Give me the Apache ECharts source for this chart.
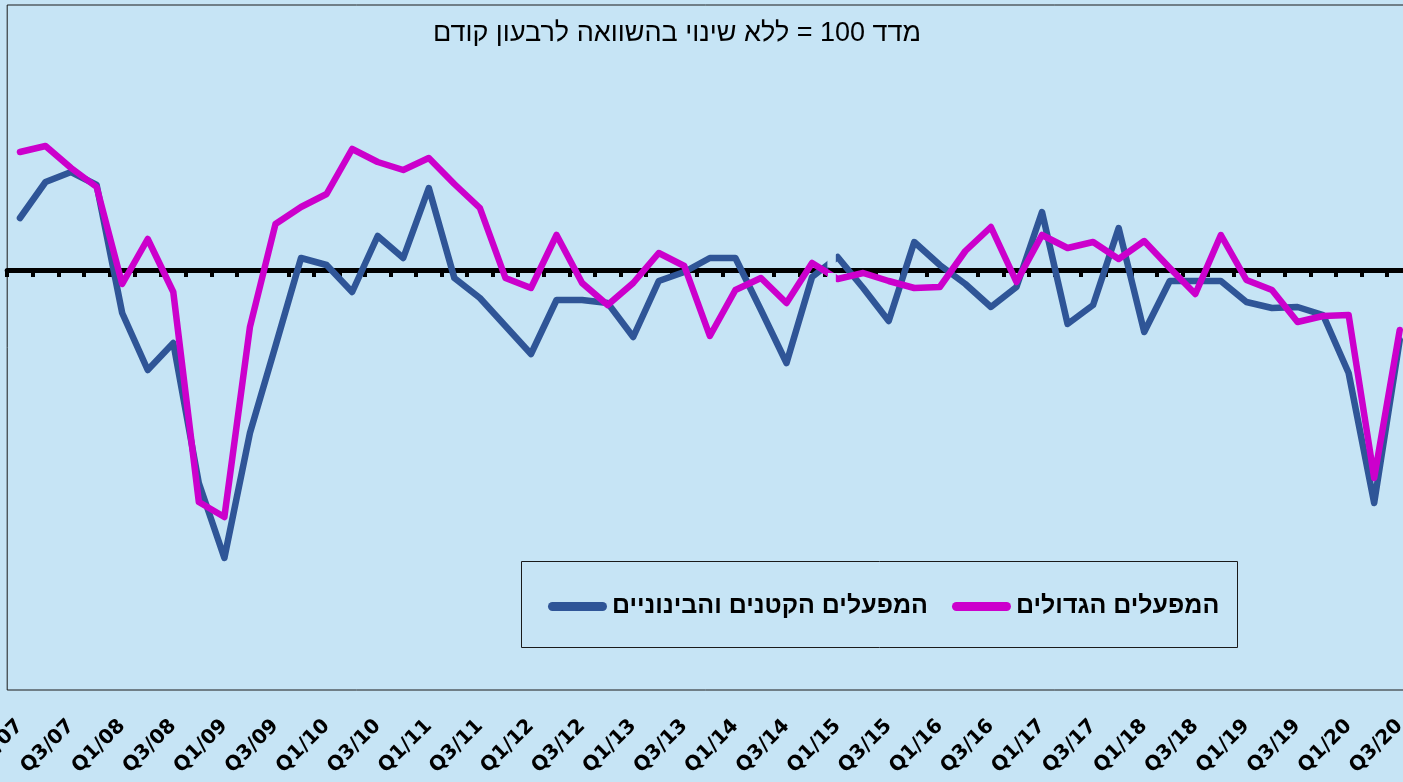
<!DOCTYPE html>
<html>
<head>
<meta charset="utf-8">
<script src="https://cdn.jsdelivr.net/npm/echarts@6.0.0/dist/echarts.min.js"></script>
<style>
  html, body { margin: 0; padding: 0; background: #C6E4F5; }
  #chart { width: 1403px; height: 782px; }
</style>
</head>
<body>
<div id="chart"></div>
<script>
// quarters, Q1/07 .. Q3/20
const quarters = [
    'Q1/07', 'Q2/07', 'Q3/07', 'Q4/07', 'Q1/08', 'Q2/08', 'Q3/08', 'Q4/08',
    'Q1/09', 'Q2/09', 'Q3/09', 'Q4/09', 'Q1/10', 'Q2/10', 'Q3/10', 'Q4/10',
    'Q1/11', 'Q2/11', 'Q3/11', 'Q4/11', 'Q1/12', 'Q2/12', 'Q3/12', 'Q4/12',
    'Q1/13', 'Q2/13', 'Q3/13', 'Q4/13', 'Q1/14', 'Q2/14', 'Q3/14', 'Q4/14',
    'Q1/15', 'Q2/15', 'Q3/15', 'Q4/15', 'Q1/16', 'Q2/16', 'Q3/16', 'Q4/16',
    'Q1/17', 'Q2/17', 'Q3/17', 'Q4/17', 'Q1/18', 'Q2/18', 'Q3/18', 'Q4/18',
    'Q1/19', 'Q2/19', 'Q3/19', 'Q4/19', 'Q1/20', 'Q2/20', 'Q3/20'
];

// המפעלים הקטנים והבינוניים
const smallMedium = [
    105.2, 108.8, 109.8, 108.5, 95.7, 90.0, 92.7, 78.7,
    71.2, 83.7, 92.4, 101.2, 100.5, 97.8, 103.4, 101.2,
    108.2, 99.2, 97.2, 94.4, 91.6, 97.0, 97.0, 96.7,
    93.3, 98.9, 99.8, 101.2, 101.2, 96.0, 90.7, 99.3,
    101.3, 98.2, 94.9, 102.8, 100.5, 98.6, 96.3, 98.3,
    105.8, 94.6, 96.5, 104.2, 93.8, 98.9, 98.9, 98.9,
    96.8, 96.2, 96.3, 95.5, 89.7, 76.7, 93.0
];

// המפעלים הגדולים
const large = [
    111.8, 112.4, 110.2, 108.3, 98.6, 103.1, 97.8, 76.8,
    75.3, 94.3, 104.6, 106.3, 107.6, 112.1, 110.8, 110.0,
    111.2, 108.6, 106.2, 99.2, 98.2, 103.5, 98.7, 96.5,
    98.7, 101.7, 100.4, 93.4, 98.0, 99.2, 96.7, 100.7,
    99.1, 99.7, 98.9, 98.2, 98.3, 101.9, 104.3, 98.8,
    103.5, 102.2, 102.8, 101.1, 102.9, 100.2, 97.6, 103.5,
    99.0, 98.0, 94.8, 95.4, 95.5, 79.2, 94.0
];

const nameSmall = 'המפעלים הקטנים והבינוניים';
const nameLarge = 'המפעלים הגדולים';
const titleText = 'מדד 100 = ללא שינוי בהשוואה לרבעון קודם';

const bg = '#C6E4F5';
const hebFont = "'Liberation Sans', Arial, sans-serif";
const labelFont = "'DejaVu Sans', 'Liberation Sans', sans-serif";
const legendIcon = 'path://M4.5,0 L54.5,0 A4.5,4.5 0 0 1 54.5,9 L4.5,9 A4.5,4.5 0 0 1 4.5,0 Z';

var myChart = echarts.init(document.getElementById('chart'));

let option = {
    backgroundColor: bg,
    color: ['#2F5597', '#CC00CC'],
    animation: false,

    legend: [{
        left: 548,
        top: 594,
        padding: 0,
        data: [nameSmall],
        itemWidth: 59,
        itemHeight: 9,
        icon: legendIcon,
        textStyle: { color: '#000', fontSize: 25, fontWeight: 'bold', fontFamily: hebFont }
    }, {
        left: 952,
        top: 594,
        padding: 0,
        data: [nameLarge],
        itemWidth: 59,
        itemHeight: 9,
        icon: legendIcon,
        textStyle: { color: '#000', fontSize: 25, fontWeight: 'bold', fontFamily: hebFont }
    }],

    grid: {
        left: 7.2,
        right: -9.5,
        top: 5,
        bottom: 92,
        show: true,
        borderColor: '#1a1a1a',
        borderWidth: 1,
        outerBoundsMode: 'none'
    },

    xAxis: [{
        type: 'category',
        data: quarters,
        boundaryGap: true,
        axisLine: { show: false },
        axisTick: { show: false },
        axisLabel: {
            interval: 1,
            rotate: 45,
            margin: 33,
            color: '#000',
            fontSize: 20,
            fontWeight: 'bold',
            fontFamily: labelFont
        }
    }, {
        // the thick line at 100 with its ticks
        type: 'category',
        data: quarters,
        position: 'bottom',
        offset: -420,
        boundaryGap: true,
        axisLine: { show: true, lineStyle: { color: '#000', width: 5 } },
        axisTick: { show: true, interval: 0, length: 7, lineStyle: { color: '#000', width: 4 } },
        axisLabel: { show: false }
    }],

    yAxis: {
        type: 'value',
        min: 58,
        max: 126.5,
        show: false,
        splitLine: { show: false }
    },

    series: [{
        name: nameSmall,
        type: 'line',
        data: smallMedium,
        symbol: 'none',
        lineStyle: { width: 6.5, cap: 'round', join: 'round' }
    }, {
        name: nameLarge,
        type: 'line',
        data: large,
        symbol: 'none',
        lineStyle: { width: 6.5, cap: 'round', join: 'round' }
    }]
};

myChart.setOption(option);

// small break in both lines between Q4/14 and Q1/15, legend frame, title
var x31 = myChart.convertToPixel({ xAxisIndex: 0 }, 31);
var x32 = myChart.convertToPixel({ xAxisIndex: 0 }, 32);
var step = x32 - x31;
var yRef = myChart.convertToPixel({ yAxisIndex: 0 }, 100);

myChart.setOption({
    graphic: [{
        type: 'rect',
        z: 50,
        shape: { x: x31 + 0.6 * step, y: yRef - 40, width: 0.33 * step, height: 37.5 },
        style: { fill: bg }
    }, {
        type: 'rect',
        z: 50,
        shape: { x: x31 + 0.62 * step, y: yRef + 3, width: 0.31 * step, height: 37 },
        style: { fill: bg }
    }, {
        type: 'rect',
        z: 1,
        shape: { x: 521.5, y: 561.5, width: 716, height: 86 },
        style: { fill: 'none', stroke: '#1a1a1a', lineWidth: 1 }
    }, {
        type: 'text',
        z: 10,
        x: 677,
        y: 34,
        style: {
            text: '\u202B' + titleText + '\u202C',
            align: 'center',
            verticalAlign: 'middle',
            fill: '#000',
            fontSize: 27,
            fontFamily: hebFont
        }
    }]
});
</script>
</body>
</html>
